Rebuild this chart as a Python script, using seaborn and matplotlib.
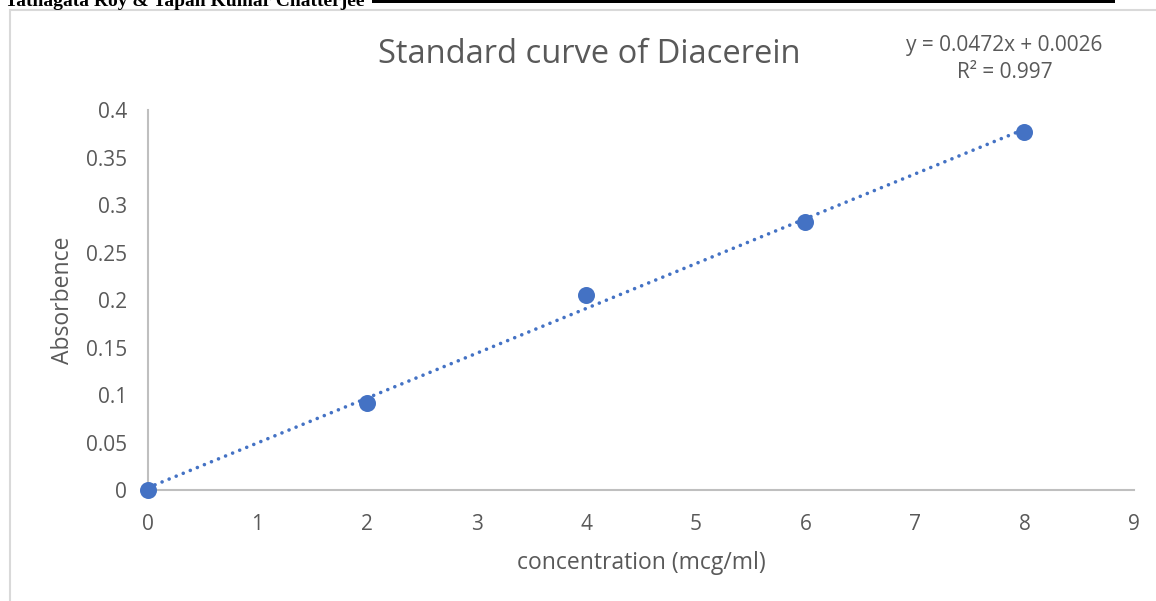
import matplotlib.pyplot as plt
import numpy as np
import pandas as pd
import seaborn as sns
from matplotlib.patches import Rectangle

# Data
concentration = [0, 2, 4, 6, 8]
absorbance = [0.0, 0.092, 0.205, 0.282, 0.377]
x_ticks = [0, 1, 2, 3, 4, 5, 6, 7, 8, 9]
y_ticks = [0, 0.05, 0.1, 0.15, 0.2, 0.25, 0.3, 0.35, 0.4]
y_tick_labels = ['0', '0.05', '0.1', '0.15', '0.2', '0.25', '0.3', '0.35', '0.4']

df = pd.DataFrame({'conc': concentration, 'abs': absorbance})

sns.set_style('white')
plt.rcParams['font.family'] = ['Open Sans', 'DejaVu Sans']

blue = '#4472C4'
grey_text = '#595959'

fig = plt.figure(figsize=(11.56, 6.01), dpi=100)
ax = fig.add_axes([0.128, 0.1847, 0.853, 0.632])

# Trendline (linear fit of the points)
slope, intercept = np.polyfit(df['conc'], df['abs'], 1)
fit_x = np.array([min(concentration), max(concentration)])
ax.plot(fit_x, slope * fit_x + intercept, color=blue, linestyle=(0, (0.01, 2.1)),
        linewidth=2.6, dash_capstyle='round', zorder=2)

sns.scatterplot(data=df, x='conc', y='abs', ax=ax, s=150, color=blue,
                edgecolor=blue, linewidth=0, zorder=3, clip_on=False)

ax.set_xlim(0, 9)
ax.set_ylim(0, 0.4)
ax.set_xticks(x_ticks)
ax.set_yticks(y_ticks)
ax.set_yticklabels(y_tick_labels)
ax.tick_params(axis='both', length=0, labelsize=15, labelcolor=grey_text)
ax.tick_params(axis='x', pad=17)
ax.tick_params(axis='y', pad=15)

for side in ['top', 'right']:
    ax.spines[side].set_visible(False)
for side in ['left', 'bottom']:
    ax.spines[side].set_color('#BFBFBF')
    ax.spines[side].set_linewidth(1.5)

ax.set_xlabel('concentration (mcg/ml)', fontsize=16.5, color=grey_text, labelpad=12)
ax.set_ylabel('Absorbence', fontsize=16.5, color=grey_text, labelpad=8)

fig.text(0.51, 0.909, 'Standard curve of Diacerein', ha='center', va='center',
         fontsize=23.5, color=grey_text)
fig.text(0.869, 0.925, 'y = 0.0472x + 0.0026', ha='center', va='center',
         fontsize=15, color=grey_text)
fig.text(0.869, 0.880, 'R² = 0.997', ha='center', va='center',
         fontsize=15, color=grey_text)

# Page header cut off at the top and chart frame
fig.text(0.004, 1 - 6 / 601, 'Tathagata Roy & Tapan Kumar Chatterjee', ha='left',
         va='baseline', fontsize=14, fontweight='bold', family='Liberation Serif',
         color='black')
fig.patches.append(Rectangle((372 / 1156, 1 - 3 / 601), (1115 - 372) / 1156, 3 / 601,
                             transform=fig.transFigure, color='black', lw=0))
fig.patches.append(Rectangle((10 / 1156, -0.05), 1.2, 1 - 10 / 601 + 0.05,
                             transform=fig.transFigure, fill=False,
                             edgecolor='#D9D9D9', lw=1.5))

fig.savefig('out.png', dpi=100)
